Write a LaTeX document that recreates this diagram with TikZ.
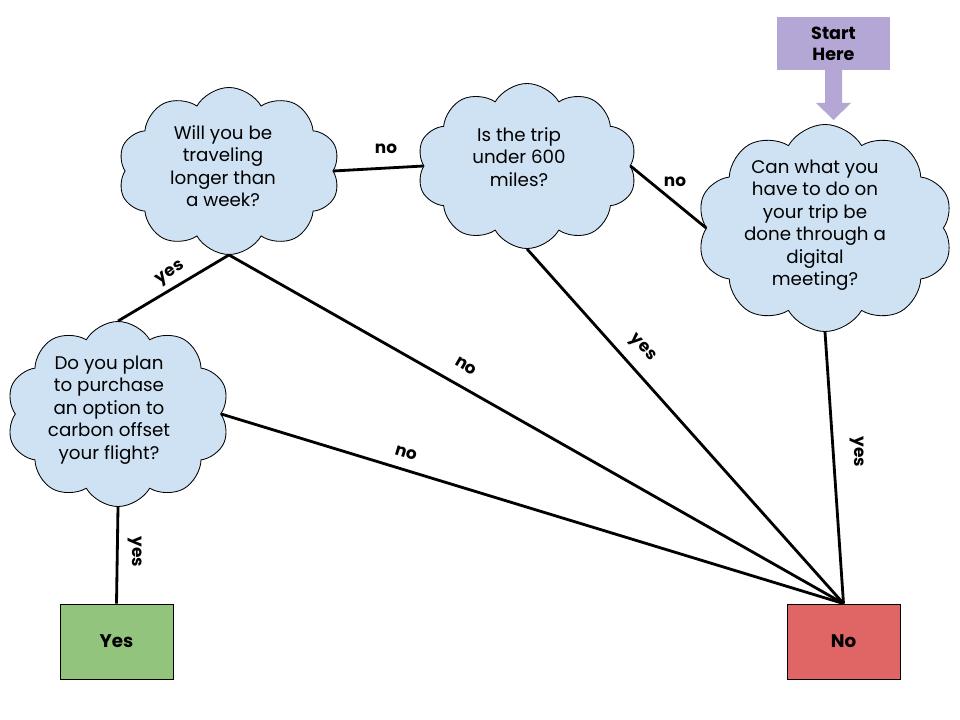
\documentclass[tikz,border=0pt]{standalone}
\usepackage{fontspec}
\setmainfont{Poppins}
\usetikzlibrary{shapes.symbols}

\definecolor{cloudblue}{HTML}{CFE2F3}
\definecolor{startpurple}{HTML}{B4A7D6}
\definecolor{yesgreen}{HTML}{93C47D}
\definecolor{nored}{HTML}{E06666}

\begin{document}
\begin{tikzpicture}[x=0.025cm,y=-0.025cm,
  question/.style={cloud, cloud puffs=10, cloud puff arc=120, cloud ignores aspect,
    draw=black, line width=0.6pt, fill=cloudblue, inner sep=0pt},
  qtext/.style={align=center, font=\fontsize{13}{16}\selectfont, inner sep=0pt},
  answer/.style={draw=black, line width=0.6pt, minimum width=2.825cm,
    minimum height=1.875cm, font=\bfseries\fontsize{13}{16}\selectfont},
  link/.style={line width=2pt},
  tag/.style={font=\bfseries\fontsize{12}{14}\selectfont, inner sep=1pt}]

\useasboundingbox[fill=white] (0,0) rectangle (960,720);

% start marker and its block arrow
\node[fill=startpurple, minimum width=2.825cm, minimum height=1.325cm, align=center,
  font=\bfseries\fontsize{12.5}{15}\selectfont] (start) at (833.5,43.5) {Start\\Here};
\fill[startpurple] (825,69) -- (825,103) -- (816,103) -- (833.5,120)
  -- (851,103) -- (842,103) -- (842,69) -- cycle;

% questions
\node[question, minimum width=5.55cm, minimum height=4.175cm] (c1) at (229,171) {};
\node[qtext] (t1) at (223,166) {Will you be\\traveling\\longer than\\a week?};

\node[question, minimum width=5.5cm, minimum height=4.125cm] (c2) at (527,166) {};
\node[qtext] (t2) at (519,157) {Is the trip\\under 600\\miles?};

\node[question, minimum width=6.4cm, minimum height=5.175cm] (c3) at (825,228) {};
\node[qtext] (t3) at (815,225) {Can what you\\have to do on\\your trip be\\done through a\\digital\\meeting?};

\node[question, minimum width=5.575cm, minimum height=4.625cm] (c4) at (118,414) {};
\node[qtext] (t4) at (109,410) {Do you plan\\to purchase\\an option to\\carbon offset\\your flight?};

% outcomes
\node[answer, fill=yesgreen] (yes) at (116.5,641.5) {Yes};
\node[answer, fill=nored] (no) at (843.5,641.5) {No};

% connectors
\draw[link] (c1.east) -- (c2.west);
\draw[link] (c2.east) -- (c3.west);
\draw[link] (c1.south) -- (c4.north);
\draw[link] (c1.south) -- (no.north);
\draw[link] (c2.south) -- (no.north);
\draw[link] (c3.south) -- (no.north);
\draw[link] (c4.east) -- (no.north);
\draw[link] (c4.south) -- (yes.north);

% answer tags
\node[tag] (l1) at (386,149) {no};
\node[tag] (l2) at (675,182) {no};
\node[tag, rotate=35] (l3) at (171,274) {yes};
\node[tag, rotate=-30] (l4) at (466,366) {no};
\node[tag, rotate=-48] (l5) at (642,348) {yes};
\node[tag, rotate=-90] (l6) at (857,452) {yes};
\node[tag, rotate=-17] (l7) at (406,453) {no};
\node[tag, rotate=-90] (l8) at (135,552) {yes};
\end{tikzpicture}
\end{document}
